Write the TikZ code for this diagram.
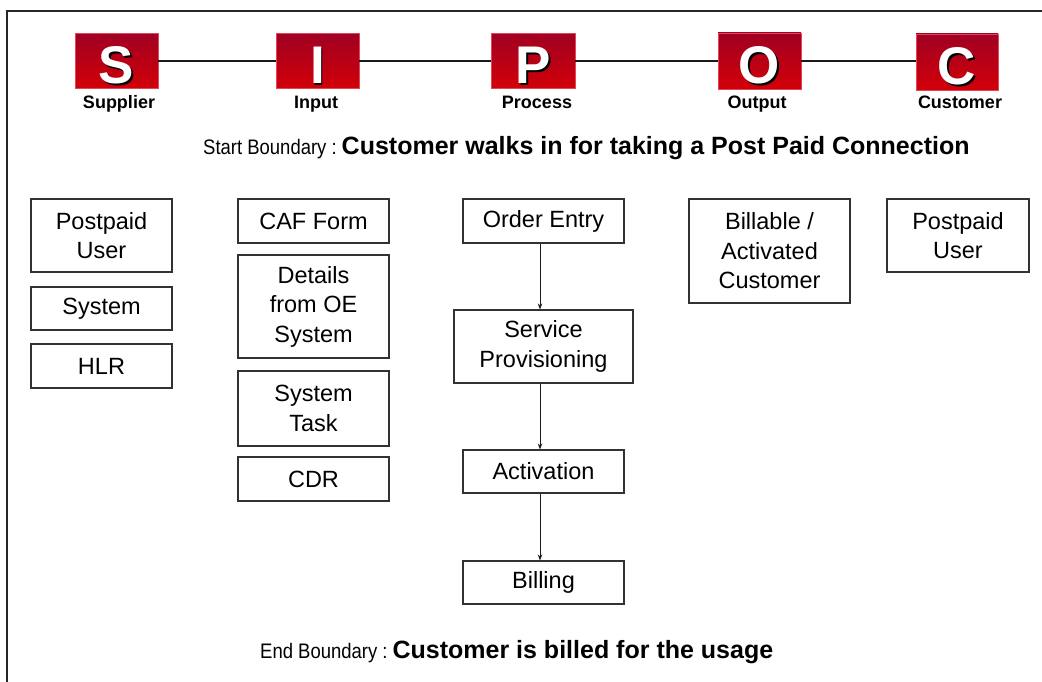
\documentclass[tikz,border=0pt]{standalone}
\usepackage{fontspec}
\setmainfont{Liberation Sans}
\usetikzlibrary{arrows.meta}
\definecolor{sipoctop}{RGB}{160,0,35}
\definecolor{sipocbot}{RGB}{210,0,8}
\definecolor{sipocedge}{RGB}{225,70,90}
\definecolor{boxline}{RGB}{50,50,50}
\newcommand\shadowletter[1]{\makebox[0pt][l]{\kern1.8pt\raisebox{-1.8pt}{\color{black}#1}}#1}
\begin{document}
\begin{tikzpicture}[x=1pt,y=-1pt,
  box/.style={draw=boxline, line width=1.1pt, align=center, inner sep=0pt,
    font=\fontsize{23.5}{29.5}\selectfont},
  sipoc/.style={top color=sipoctop, bottom color=sipocbot, draw=sipocedge,
    line width=0.6pt, inner sep=0pt, text=white,
    font=\bfseries\fontsize{53}{53}\selectfont, text height=45pt, text depth=0pt},
  slabel/.style={font=\bfseries\fontsize{18}{18}\selectfont, inner sep=0pt, anchor=base},
  flow/.style={-{Stealth[length=6pt,width=4.5pt]}, line width=0.9pt, black!90},
  link/.style={line width=2pt, black!90},
  frame/.style={line width=1.6pt, black!85}]
\useasboundingbox (0,0) rectangle (1042,682);
% outer frame (partly cut off)
\draw[frame] (7,700) -- (7,11) -- (1060,11);

% SIPOC header
\node[sipoc, minimum width=83pt, minimum height=55pt] (s) at (116.5,61) {\shadowletter{S}};
\node[sipoc, minimum width=83pt, minimum height=55pt] (i) at (317.5,61) {\shadowletter{I}};
\node[sipoc, minimum width=84pt, minimum height=55pt] (p) at (533,61) {\shadowletter{P}};
\node[sipoc, minimum width=83pt, minimum height=56pt] (o) at (759.5,61) {\shadowletter{O}};
\node[sipoc, minimum width=82pt, minimum height=56pt] (c) at (957,62) {\shadowletter{C}};

\draw[link] (s.east) -- (s.east -| i.west);
\draw[link] (i.east) -- (i.east -| p.west);
\draw[link] (p.east) -- (p.east -| o.west);
\draw[link] (o.east) -- (o.east -| c.west);

\node[slabel] (ls) at (119,109) {Supplier};
\node[slabel] (li) at (316,109) {Input};
\node[slabel] (lp) at (537,109) {Process};
\node[slabel] (lo) at (757,109) {Output};
\node[slabel] (lc) at (960,109) {Customer};

% boundaries
\node[anchor=base west, inner sep=0pt] (start) at (203,155)
  {\fontsize{21}{21}\selectfont\scalebox{0.88}[1]{Start Boundary :}\hspace{5pt}{\bfseries\fontsize{25}{25}\selectfont Customer walks in for taking a Post Paid Connection}};
\node[anchor=base west, inner sep=0pt] (end) at (260,658)
  {\fontsize{21}{21}\selectfont\scalebox{0.88}[1]{End Boundary :}\hspace{5pt}{\bfseries\fontsize{25}{25}\selectfont Customer is billed for the usage}};

% Supplier column
\node[box, minimum width=141pt, minimum height=73pt] (pu1) at (101.5,235.5) {Postpaid\\User};
\node[box, minimum width=141pt, minimum height=43pt] (sys) at (101.5,308.5) {System};
\node[box, minimum width=141pt, minimum height=44pt] (hlr) at (101.5,366) {HLR};

% Input column
\node[box, minimum width=151pt, minimum height=44pt] (caf) at (313.5,221) {CAF Form};
\node[box, minimum width=151pt, minimum height=103pt] (det) at (313.5,306.5) {Details\\from OE\\System};
\node[box, minimum width=151pt, minimum height=75pt] (task) at (313.5,408.5) {System\\Task};
\node[box, minimum width=151pt, minimum height=44pt] (cdr) at (313.5,479) {CDR};

% Process column
\node[box, minimum width=161pt, minimum height=44pt] (oe) at (543.5,221) {Order Entry};
\node[box, minimum width=179pt, minimum height=73pt] (sp) at (543.5,346.5) {Service\\Provisioning};
\node[box, minimum width=161pt, minimum height=43pt] (act) at (543.5,471.5) {Activation};
\node[box, minimum width=161pt, minimum height=43pt] (bill) at (543.5,582.5) {Billing};

\draw[flow] ([xshift=-3.5pt]oe.south) -- ([xshift=-3.5pt]sp.north);
\draw[flow] ([xshift=-3.5pt]sp.south) -- ([xshift=-3.5pt]act.north);
\draw[flow] ([xshift=-3.5pt]act.south) -- ([xshift=-3.5pt]bill.north);

% Output and Customer
\node[box, minimum width=161pt, minimum height=104pt] (bac) at (769.5,251) {Billable /\\Activated\\Customer};
\node[box, minimum width=142pt, minimum height=73pt] (pu2) at (958,235.5) {Postpaid\\User};
\end{tikzpicture}
\end{document}
